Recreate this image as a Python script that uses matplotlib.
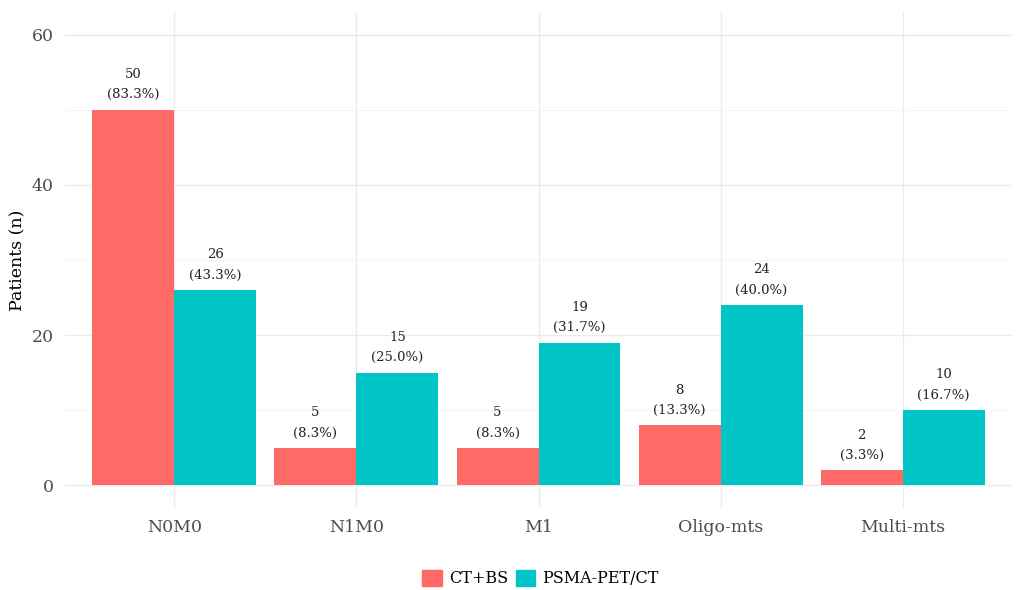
import numpy as np
import matplotlib.pyplot as plt
from matplotlib.patches import Patch

categories = ["N0M0", "N1M0", "M1", "Oligo-mts", "Multi-mts"]
ct_bs = [50, 5, 5, 8, 2]
psma = [26, 15, 19, 24, 10]
ct_pct = ["83.3%", "8.3%", "8.3%", "13.3%", "3.3%"]
psma_pct = ["43.3%", "25.0%", "31.7%", "40.0%", "16.7%"]
series = ["CT+BS", "PSMA-PET/CT"]
colors = ["#FE6A66", "#00C4C6"]

plt.rcParams['font.family'] = ['DejaVu Serif']

fig = plt.figure(figsize=(10.16, 5.9), dpi=100)
ax = fig.add_axes([65 / 1016, 82 / 590, 947 / 1016, 496 / 590])

x = np.arange(1, len(categories) + 1)
w = 0.45
for vals, pcts, col, off in [(ct_bs, ct_pct, colors[0], -w / 2), (psma, psma_pct, colors[1], w / 2)]:
    ax.bar(x + off, vals, width=w, color=col, zorder=2)
    for xi, v, p in zip(x + off, vals, pcts):
        ax.annotate(f"{v}\n({p})", (xi, v), xytext=(0, 6), textcoords="offset points",
                    ha="center", va="bottom", fontsize=9.5, color="#222222", linespacing=1.75)

ax.set_xlim(0.4, 5.6)
ax.set_ylim(-3, 63)
ax.set_yticks([0, 20, 40, 60])
ax.set_yticks([10, 30, 50], minor=True)
ax.set_xticks(x)
ax.set_xticklabels(categories)
ax.grid(True, which="major", color="#EBEBEB", linewidth=1.0, zorder=0)
ax.grid(True, which="minor", axis="y", color="#F2F2F2", linewidth=0.6, zorder=0)
ax.tick_params(which="both", length=0, labelsize=12.5, labelcolor="#4D4D4D", pad=8)
for s in ax.spines.values():
    s.set_visible(False)
ax.set_ylabel("Patients (n)", fontsize=12.5, labelpad=4)

handles = [Patch(color=c, label=s) for c, s in zip(colors, series)]
fig.legend(handles=handles, loc="lower center", bbox_to_anchor=(0.532, -0.02), ncol=2, frameon=False,
           fontsize=11.5, handlelength=1.2, handleheight=1.2, handletextpad=0.45, columnspacing=0.5)

fig.savefig("out.png", dpi=100)
